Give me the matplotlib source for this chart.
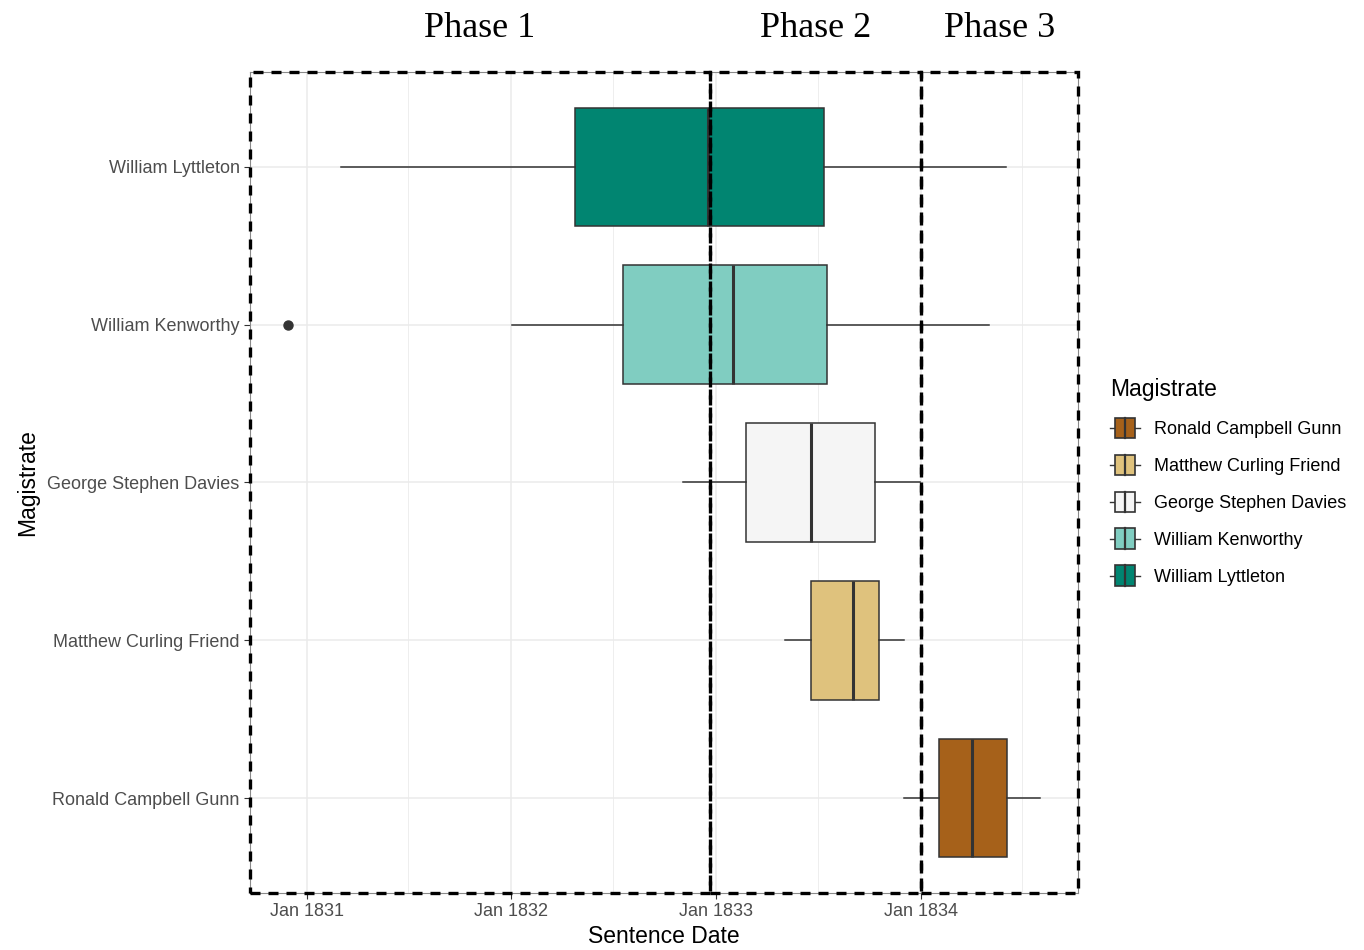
import numpy as np
import matplotlib.pyplot as plt
import matplotlib.dates as mdates
from matplotlib.patches import Rectangle
from matplotlib.lines import Line2D
from matplotlib.legend_handler import HandlerBase

# Magistrates (bottom to top on the y axis, also legend order)
magistrates = ["Ronald Campbell Gunn", "Matthew Curling Friend", "George Stephen Davies",
               "William Kenworthy", "William Lyttleton"]
colors = ["#A6611A", "#DFC27D", "#F5F5F5", "#80CDC1", "#018571"]

# Box statistics of sentence dates
whislo = ["1833-12-02", "1833-05-04", "1832-11-02", "1832-01-02", "1831-03-04"]
q1 = ["1834-02-02", "1833-06-18", "1833-02-23", "1832-07-18", "1832-04-23"]
med = ["1834-04-02", "1833-09-02", "1833-06-18", "1833-01-31", "1832-12-17"]
q3 = ["1834-06-03", "1833-10-18", "1833-10-11", "1833-07-18", "1833-07-12"]
whishi = ["1834-08-02", "1833-12-02", "1833-12-31", "1834-05-03", "1834-06-01"]
outliers = [[], [], [], ["1830-11-28"], []]

# Phase boundaries and labels
phase_bounds = ["1832-12-20", "1834-01-01"]
phase_labels = ["Phase 1", "Phase 2", "Phase 3"]
tick_years = [1831, 1832, 1833, 1834]


def d(s):
    return mdates.date2num(np.datetime64(s))


stats = []
for i, name in enumerate(magistrates):
    stats.append(dict(label=name, whislo=d(whislo[i]), q1=d(q1[i]), med=d(med[i]),
                      q3=d(q3[i]), whishi=d(whishi[i]),
                      fliers=[d(o) for o in outliers[i]]))

grey20 = "#333333"
plt.rcParams['font.family'] = ['Liberation Sans', 'DejaVu Sans']

fig = plt.figure(figsize=(13.64, 9.5), dpi=100)
ax = fig.add_axes([250 / 1364, 1 - 893 / 950, 828 / 1364, 821 / 950])

bp = ax.bxp(stats, positions=range(1, 6), widths=0.75, orientation='horizontal',
            patch_artist=True, showcaps=False,
            boxprops=dict(edgecolor=grey20, linewidth=1.1),
            medianprops=dict(color=grey20, linewidth=2.2),
            whiskerprops=dict(color=grey20, linewidth=1.1),
            flierprops=dict(marker='o', markerfacecolor=grey20, markeredgecolor=grey20,
                            markersize=6.5))
for patch, c in zip(bp['boxes'], colors):
    patch.set_facecolor(c)
    patch.set_zorder(2)

ax.set_xticks([d(f"{y}-01-01") for y in tick_years])
ax.set_xticklabels([f"Jan {y}" for y in tick_years])
ax.set_xticks([d(f"{y}-07-01") for y in tick_years], minor=True)
ax.set_yticks(range(1, 6))
ax.set_yticklabels(magistrates)

# x range with 5% expansion like ggplot (set after ticks so they don't widen it)
all_vals = [d(v) for v in whislo + whishi] + [d(o) for ol in outliers for o in ol]
lo, hi = min(all_vals), max(all_vals)
pad = (hi - lo) * 0.05
ax.set_xlim(lo - pad, hi + pad)
ax.set_ylim(0.4, 5.6)

ax.tick_params(axis='both', which='major', labelsize=13, labelcolor='#4D4D4D',
               color=grey20, length=4, width=0.8)
ax.tick_params(axis='x', which='minor', length=0)
ax.grid(which='major', color='#EBEBEB', linewidth=1.1)
ax.grid(which='minor', axis='x', color='#EBEBEB', linewidth=0.6)
ax.set_axisbelow(True)
for s in ax.spines.values():
    s.set_color('#8a8a8a')
    s.set_linewidth(0.8)

ax.set_xlabel("Sentence Date", fontsize=16.5, labelpad=3)
ax.set_ylabel("Magistrate", fontsize=16.5, labelpad=6)

# dashed phase rectangles
edges = [lo - pad] + [d(b) for b in phase_bounds] + [hi + pad]
trans = ax.get_xaxis_transform()
for k in range(3):
    x0, x1 = edges[k], edges[k + 1]
    ax.add_patch(Rectangle((x0, 0), x1 - x0, 1, transform=trans, fill=False,
                           edgecolor='black', linewidth=2.4, linestyle=(0, (3, 2.4)),
                           clip_on=False, zorder=4))
    ax.text((x0 + x1) / 2, 1.053, phase_labels[k], transform=trans, ha='center',
            va='center', fontsize=26, family=['Liberation Serif', 'DejaVu Serif'])


class BoxKey(HandlerBase):
    def create_artists(self, legend, orig, xd, yd, w, h, fs, trans):
        x0, y0 = -xd, -yd
        cy = y0 + h / 2
        whisk = Line2D([x0, x0 + w], [cy, cy], color=grey20, lw=1.0)
        box = Rectangle((x0 + 0.16 * w, y0), 0.68 * w, h, facecolor=orig.get_facecolor(),
                        edgecolor=grey20, lw=1.2)
        mline = Line2D([x0 + w / 2] * 2, [y0, y0 + h], color=grey20, lw=1.6)
        for a in (whisk, box, mline):
            a.set_transform(trans)
        return [whisk, box, mline]


handles = [Rectangle((0, 0), 1, 1, facecolor=c) for c in colors]
fig.legend(handles, magistrates, handler_map={Rectangle: BoxKey()}, loc='upper left',
           bbox_to_anchor=(1094 / 1364, 1 - 362 / 950), frameon=False,
           title="Magistrate", title_fontsize=16.5, fontsize=13, alignment='left',
           handlelength=1.65, handleheight=1.35, labelspacing=0.92, handletextpad=0.75)

fig.savefig("out.png", dpi=100)
